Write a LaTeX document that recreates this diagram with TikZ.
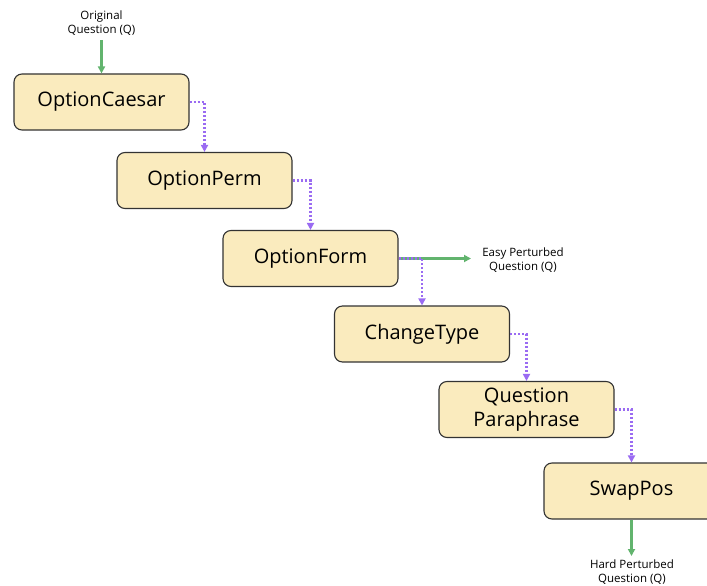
\documentclass[tikz,border=0pt]{standalone}
\usepackage{fontspec}
\setmainfont{Open Sans}
\usetikzlibrary{arrows.meta}
\definecolor{boxfill}{HTML}{FAEBBE}
\definecolor{boxline}{HTML}{333333}
\definecolor{purp}{HTML}{9A6BF2}
\definecolor{grn}{HTML}{62B46E}
\begin{document}
\begin{tikzpicture}[x=1pt,y=-1pt,
  stage/.style={draw=boxline,fill=boxfill,line width=1.1pt,rounded corners=8pt,
    minimum width=175pt,minimum height=56pt,inner sep=0pt,align=center,
    font=\fontsize{20}{24}\selectfont},
  lbl/.style={align=center,font=\fontsize{11.5}{14}\selectfont,inner sep=0pt},
  flow/.style={draw=purp,line width=2.4pt,dash pattern=on 2.4pt off 1.6pt,-{Triangle[length=7pt,width=7pt]}},
  io/.style={draw=grn,line width=2.4pt,-{Triangle[length=7pt,width=7pt]}}]
\useasboundingbox (0,0) rectangle (707,586);
\clip (0,0) rectangle (707,586);
\node[stage] (c1) at (101.5,102) {OptionCaesar};
\node[stage] (c2) at (204.5,180.5) {OptionPerm};
\node[stage] (c3) at (310.5,258.5) {OptionForm};
\node[stage] (c4) at (422,334) {ChangeType};
\node[stage] (c5) at (526.5,409.5) {Question\\Paraphrase};
\node[stage] (c6) at (631.5,491) {SwapPos};
\node[lbl] (orig) at (101.5,23) {Original\\Question (Q)};
\node[lbl] (easy) at (523,260) {Easy Perturbed\\Question (Q)};
\node[lbl] (hard) at (632,572) {Hard Perturbed\\Question (Q)};
\coordinate (o1) at (101.5,40);
\coordinate (e1) at (471,258.5);
\coordinate (h1) at (631.5,556);
\draw[io] (o1) -- (c1.north);
\draw[io] (c3.east) -- (e1);
\draw[io] (c6.south) -- (h1);
\draw[flow] (c1.east) -| (c2.north);
\draw[flow] (c2.east) -| (c3.north);
\draw[flow] (c3.east) -| (c4.north);
\draw[flow] (c4.east) -| (c5.north);
\draw[flow] (c5.east) -| (c6.north);
\end{tikzpicture}
\end{document}
